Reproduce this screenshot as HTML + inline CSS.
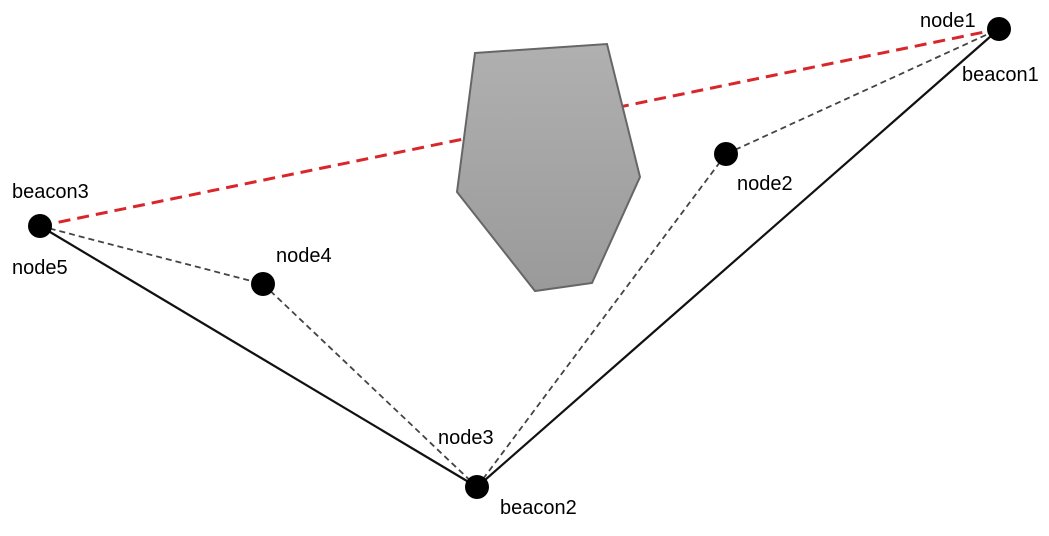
<!DOCTYPE html>
<html><head><style>
html,body{margin:0;padding:0;background:#fff;}
svg{display:block;}
text{font-family:"Liberation Sans",sans-serif;font-size:20px;fill:#000;}
</style></head><body>
<svg width="1049" height="536" viewBox="0 0 1049 536">
<defs><linearGradient id="g" x1="0" y1="0" x2="0" y2="1"><stop offset="0" stop-color="#b0b0b0"/><stop offset="1" stop-color="#9a9a9a"/></linearGradient></defs>
<line x1="40" y1="226" x2="999" y2="29" stroke="#d9262a" stroke-width="3" stroke-dasharray="12,7"/>
<polygon points="475,53 607,44 640,177 592,283 535,291 457,192" fill="url(#g)" stroke="#666" stroke-width="2"/>
<g stroke="#444" stroke-width="1.8" stroke-dasharray="6,4" fill="none">
<line x1="40" y1="226" x2="263" y2="284"/>
<line x1="263" y1="284" x2="477" y2="487"/>
<line x1="477" y1="487" x2="726" y2="154"/>
<line x1="726" y1="154" x2="999" y2="29"/>
</g>
<g stroke="#111" stroke-width="2.2">
<line x1="40" y1="226" x2="477" y2="487"/>
<line x1="477" y1="487" x2="999" y2="29"/>
</g>
<g fill="#000">
<circle cx="999" cy="29" r="12"/>
<circle cx="726" cy="154" r="12"/>
<circle cx="477" cy="487" r="12"/>
<circle cx="263" cy="284" r="12"/>
<circle cx="40" cy="226" r="12"/>
</g>
<text x="920" y="27">node1</text>
<text x="962" y="81">beacon1</text>
<text x="737" y="190">node2</text>
<text x="12" y="198">beacon3</text>
<text x="12" y="274">node5</text>
<text x="276" y="262">node4</text>
<text x="438" y="444">node3</text>
<text x="500" y="514">beacon2</text>
</svg>
</body></html>
